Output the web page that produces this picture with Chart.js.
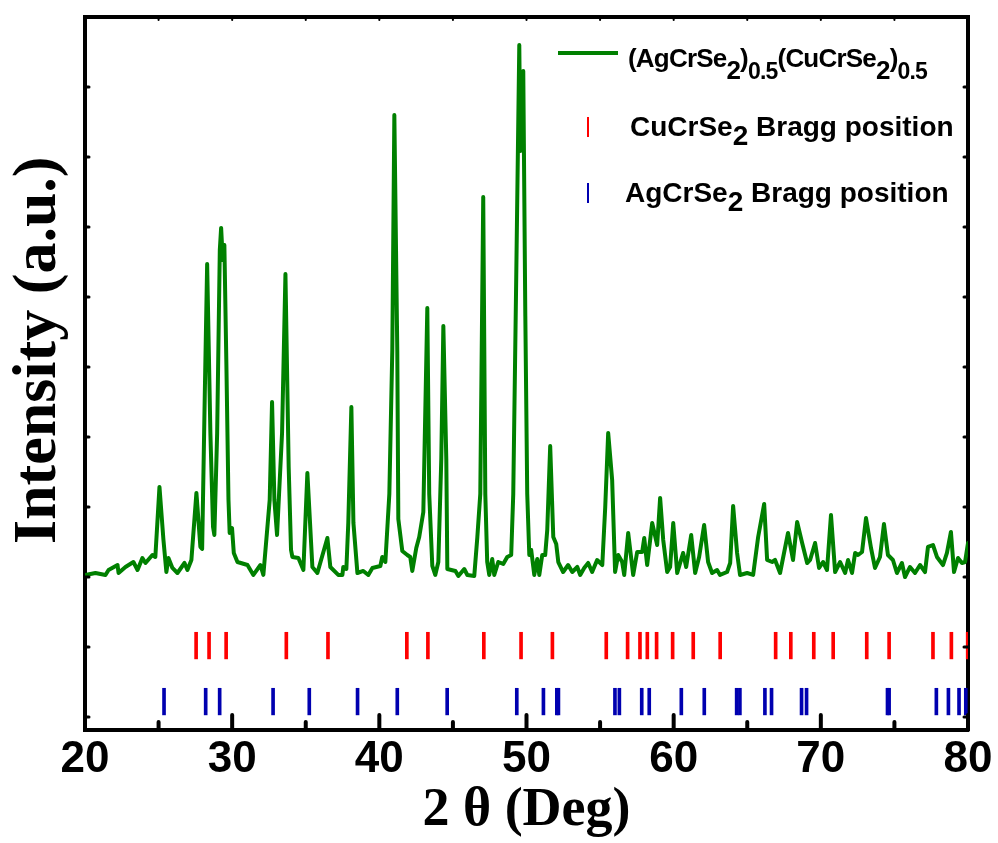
<!DOCTYPE html>
<html>
<head>
<meta charset="utf-8">
<script src="https://cdn.jsdelivr.net/npm/chart.js@4"></script>
<style>
  body { margin: 0; background: #fff; }
  #wrap { position: relative; width: 998px; height: 843px; }
  .leg { position: absolute; font-family: "Liberation Sans", Arial, sans-serif; font-weight: bold; color: #000; white-space: nowrap; line-height: 1; }
  .sub { position: relative; top: 9px; }
  .sub1 { position: relative; top: 12px; }
  .sub2 { position: relative; top: 12px; font-size: 23px; }
  .swatch { position: absolute; }
</style>
</head>
<body>
<div id="wrap">
  <canvas id="xrdChart" width="998" height="843"></canvas>
  <div class="swatch" style="left:558px;top:51px;width:60px;height:4px;background:#008000"></div>
  <div class="leg" style="left:628px;top:45px;font-size:26px;letter-spacing:-0.8px">(AgCrSe<span class="sub1">2</span>)<span class="sub2">0.5</span>(CuCrSe<span class="sub1">2</span>)<span class="sub2">0.5</span></div>
  <div class="swatch" style="left:587px;top:117px;width:2px;height:20px;background:#ff0000"></div>
  <div class="leg" style="left:630px;top:113px;font-size:28px">CuCrSe<span class="sub">2</span> Bragg position</div>
  <div class="swatch" style="left:587px;top:183px;width:2px;height:20px;background:#0000b0"></div>
  <div class="leg" style="left:625px;top:179px;font-size:28px">AgCrSe<span class="sub">2</span> Bragg position</div>
</div>
<script>
// XRD pattern (2 theta in degrees, intensity in a.u.)
const twoTheta = [20.03,20.71,21.39,21.60,22.21,22.28,22.75,23.29,23.57,23.90,24.11,24.58,24.78,25.06,25.33,25.53,25.67,25.94,26.28,26.76,
  26.96,27.23,27.57,27.84,27.96,28.14,28.30,28.52,28.70,28.79,28.98,29.16,29.25,29.36,29.47,29.61,29.75,29.83,29.99,30.11,
  30.36,31.04,31.44,31.92,32.12,32.55,32.71,32.87,33.05,33.39,33.62,33.84,34.00,34.09,34.50,34.84,35.11,35.45,35.79,36.47,
  36.67,37.21,37.49,37.55,37.76,37.89,38.10,38.24,38.51,38.91,39.25,39.53,40.07,40.20,40.41,40.68,40.88,41.02,41.22,41.29,
  41.56,41.90,42.10,42.24,42.51,42.71,42.99,43.26,43.39,43.60,43.80,44.01,44.21,44.35,44.55,44.62,45.17,45.37,45.77,45.98,
  46.45,46.66,46.86,47.06,47.20,47.33,47.47,47.67,47.81,48.08,48.42,48.69,48.96,49.10,49.30,49.51,49.58,49.78,49.92,50.05,
  50.19,50.32,50.53,50.73,50.87,51.07,51.27,51.41,51.61,51.82,52.02,52.16,52.49,52.83,53.11,53.45,53.65,53.92,54.19,54.46,
  54.80,55.15,55.35,55.55,55.82,56.02,56.23,56.50,56.64,56.91,57.25,57.52,57.86,58.00,58.20,58.54,58.88,59.08,59.29,59.56,
  59.76,59.97,60.24,60.64,60.85,61.19,61.46,61.73,62.07,62.34,62.61,62.95,63.15,63.63,63.84,64.04,64.31,64.51,64.99,65.40,
  65.74,66.15,66.35,66.69,66.89,67.23,67.77,68.11,68.39,68.73,69.07,69.27,69.61,69.88,70.15,70.42,70.69,70.97,71.31,71.65,
  71.85,72.12,72.33,72.53,72.80,73.07,73.41,73.68,74.02,74.29,74.56,74.90,75.17,75.51,75.72,76.06,76.40,76.74,77.08,77.28,
  77.62,77.89,78.30,78.57,78.84,79.05,79.32,79.59,79.80,80.00];
const intensity = [2029,2057,2029,2100,2171,2057,2143,2214,2100,2271,2200,2314,2286,3286,2529,2071,2271,2129,2057,2200,
  2100,2243,3200,2429,2400,4614,6471,4057,2714,2600,4057,6671,6986,6529,6743,5000,3100,2629,2700,2343,
  2214,2171,2029,2171,2029,3100,4500,3100,2600,4057,6329,3571,2386,2286,2271,2100,3486,2143,2057,2557,
  2143,2029,2029,2143,2114,2771,4429,2771,2057,2086,2029,2129,2157,2286,2214,3186,5229,8600,5229,2829,
  2371,2314,2286,2086,2414,2571,2929,5843,3186,2157,2029,2214,3686,5586,3686,2114,2086,2014,2114,2029,
  2014,2571,3186,7429,3186,2214,2029,2257,2029,2214,2186,2286,2314,3186,6243,9600,8086,9229,5729,3186,
  2314,2386,2029,2257,2029,2314,2314,2671,3871,2571,2471,2214,2071,2171,2071,2143,2029,2129,2200,2071,
  2243,2171,3000,4057,3386,2071,2314,2214,2029,2629,2029,2357,2357,2557,2171,2771,2457,3129,2529,2071,
  2143,2771,2057,2343,2143,2600,2057,2286,2743,2214,2057,2100,2029,2071,2200,3014,2343,2029,2057,2029,
  2571,3043,2243,2214,2243,2057,2629,2243,2786,2486,2200,2243,2486,2129,2214,2100,2886,2071,2214,2057,
  2243,2057,2343,2314,2357,2843,2414,2129,2286,2757,2314,2243,2057,2200,2000,2143,2057,2171,2071,2429,
  2457,2286,2171,2343,2643,2071,2271,2200,2214,2486];

// Bragg reflections
const cuBragg = [27.55,28.43,29.59,33.68,36.51,41.87,43.30,47.10,49.63,51.76,55.42,56.87,57.71,58.21,58.84,
  59.93,61.33,63.16,66.93,67.96,69.52,70.84,73.12,74.64,77.62,78.87,79.98];
const agBragg = [25.37,28.20,29.15,32.78,35.24,38.52,41.22,44.61,49.34,51.15,52.06,52.17,56.01,56.31,57.83,
  58.34,60.52,62.08,64.28,64.50,66.20,66.65,68.69,69.03,74.53,74.64,77.85,78.67,79.39,79.85];
const cuTickSpan = [830, 1210];
const agTickSpan = [30, 410];

// axes
const xMajorTicks = [20, 30, 40, 50, 60, 70, 80];
const xMinorTicks = [25, 35, 45, 55, 65, 75];
const yTicks = [0, 1000, 2000, 3000, 4000, 5000, 6000, 7000, 8000, 9000, 10000];
const yMin = -186, yMax = 10000;

// ticks pointing into the frame, like the original plot
const innerTicks = {
  id: 'innerTicks',
  afterDraw(chart) {
    const ctx = chart.ctx;
    const a = chart.chartArea;
    const xs = chart.scales.x, ys = chart.scales.y;
    ctx.save();
    ctx.strokeStyle = '#000';
    ctx.lineCap = 'round';
    const tick = (x0, y0, x1, y1, w) => {
      ctx.lineWidth = w;
      ctx.beginPath(); ctx.moveTo(x0, y0); ctx.lineTo(x1, y1); ctx.stroke();
    };
    xMajorTicks.forEach(v => {
      const px = xs.getPixelForValue(v);
      tick(px, a.bottom, px, a.bottom - 15, 4);
      tick(px, a.top, px, a.top + 3, 2);
    });
    xMinorTicks.forEach(v => {
      const px = xs.getPixelForValue(v);
      tick(px, a.bottom, px, a.bottom - 8, 4);
      tick(px, a.top, px, a.top + 3, 2);
    });
    yTicks.forEach(v => {
      const py = ys.getPixelForValue(v);
      tick(a.left, py, a.left + 4, py, 3);
      tick(a.right, py, a.right - 4, py, 3);
    });
    ctx.restore();
  }
};

const frame = {width: 4, color: '#000'};
const tickFont = {family: 'Liberation Sans', size: 44, weight: 'bold'};

const ctx = document.getElementById('xrdChart').getContext('2d');
new Chart(ctx, {
  type: 'line',
  data: {
    datasets: [{
      type: 'line',
      label: '(AgCrSe2)0.5(CuCrSe2)0.5',
      data: twoTheta.map((t, i) => ({x: t, y: intensity[i]})),
      borderColor: '#008000',
      borderWidth: 4,
      borderJoinStyle: 'round',
      borderCapStyle: 'round',
      pointRadius: 0,
      tension: 0
    }, {
      type: 'bar',
      label: 'CuCrSe2 Bragg position',
      data: cuBragg.map(t => ({x: t, y: cuTickSpan})),
      backgroundColor: '#ff0000',
      barThickness: 3,
      grouped: false
    }, {
      type: 'bar',
      label: 'AgCrSe2 Bragg position',
      data: agBragg.map(t => ({x: t, y: agTickSpan})),
      backgroundColor: '#0000b0',
      barThickness: 3,
      grouped: false
    }]
  },
  options: {
    responsive: false,
    animation: false,
    layout: {padding: 0},
    plugins: {legend: {display: false}, tooltip: {enabled: false}},
    scales: {
      x: {
        type: 'linear', position: 'bottom', min: 20, max: 80, offset: false,
        afterBuildTicks: s => { s.ticks = xMajorTicks.map(v => ({value: v})); },
        ticks: {font: tickFont, color: '#000', padding: 3, maxRotation: 0, autoSkip: false},
        grid: {display: false, drawTicks: false, offset: false},
        border: frame,
        title: {display: true, text: '2 θ (Deg)', color: '#000', padding: 0,
          font: {family: 'Liberation Serif', size: 54, weight: 'bold'}},
        afterFit: s => { s.height = 113; }
      },
      x2: {
        type: 'linear', position: 'top', min: 20, max: 80, offset: false,
        ticks: {display: false}, grid: {display: false, drawTicks: false}, border: frame,
        afterFit: s => { s.height = 17; }
      },
      y: {
        type: 'linear', position: 'left', min: yMin, max: yMax,
        ticks: {display: false}, grid: {display: false, drawTicks: false}, border: frame,
        title: {display: true, text: '\u00a0\u00a0\u00a0Intensity (a.u.)', color: '#000', padding: {top: 2, bottom: 0},
          font: {family: 'Liberation Serif', size: 62, weight: 'bold'}},
        afterFit: s => { s.width = 85; }
      },
      y2: {
        type: 'linear', position: 'right', min: yMin, max: yMax,
        ticks: {display: false}, grid: {display: false, drawTicks: false}, border: frame,
        afterFit: s => { s.width = 30; }
      }
    }
  },
  plugins: [innerTicks]
});
</script>
</body>
</html>
